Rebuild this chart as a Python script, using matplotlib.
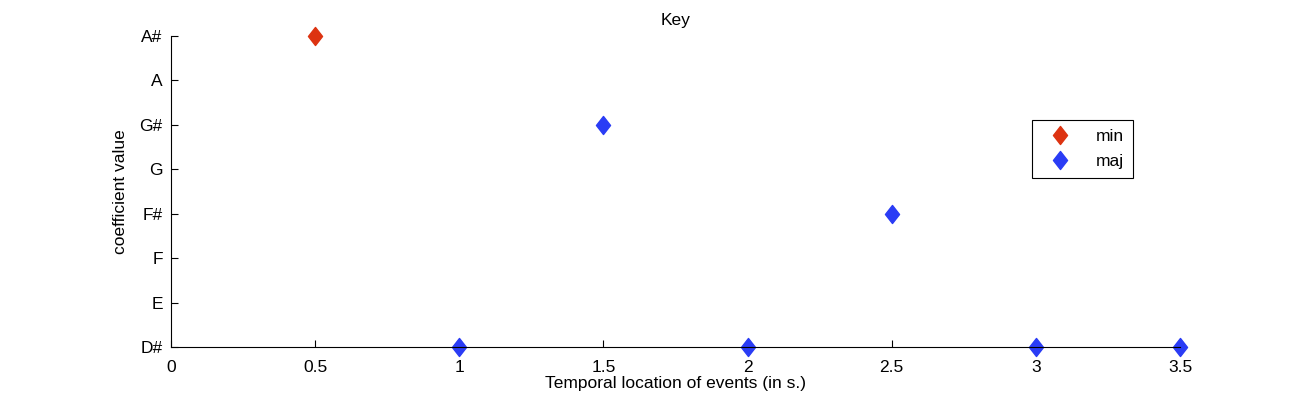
import matplotlib
matplotlib.use("Agg")
import matplotlib.pyplot as plt
from matplotlib.path import Path

keys = ["D#", "E", "F", "F#", "G", "G#", "A", "A#"]
min_x = [0.5]
min_y = ["A#"]
maj_x = [1.5, 2.5, 1, 2, 3, 3.5]
maj_y = ["G#", "F#", "D#", "D#", "D#", "D#"]

diamond = Path([(0, 1), (0.78, 0), (0, -1), (-0.78, 0), (0, 1)],
               [Path.MOVETO, Path.LINETO, Path.LINETO, Path.LINETO, Path.CLOSEPOLY])

plt.rcParams['font.family'] = ['Liberation Sans', 'DejaVu Sans']
plt.rcParams['font.size'] = 12.5
fig = plt.figure(figsize=(13.02, 4.04), dpi=100)
ax = fig.add_axes([171/1302, 1-347/404, (1180-171)/1302, (347-36)/404])
ax.plot(min_x, [keys.index(k) for k in min_y], linestyle='none', marker=diamond, color='#dd3311', markersize=13, label='min', clip_on=False)
ax.plot(maj_x, [keys.index(k) for k in maj_y], linestyle='none', marker=diamond, color='#2a3cf5', markersize=13, label='maj', clip_on=False)
ax.set_xlim(0, 3.5)
ax.set_ylim(0, 7)
ax.set_xticks([0, 0.5, 1, 1.5, 2, 2.5, 3, 3.5])
ax.set_xticklabels(["0", "0.5", "1", "1.5", "2", "2.5", "3", "3.5"])
ax.set_yticks(range(len(keys)))
ax.set_yticklabels(keys)
ax.tick_params(direction='in', length=5, right=False, top=False)
ax.tick_params(axis='x', pad=9)
ax.tick_params(axis='y', pad=6)
for s in ['top', 'right']:
    ax.spines[s].set_visible(False)
ax.set_xlabel("Temporal location of events (in s.)", labelpad=1)
ax.set_ylabel("coefficient value", labelpad=8)
ax.set_title("Key", fontsize=12.5, pad=8)
leg = ax.legend(loc='upper left', bbox_to_anchor=((1032-171)/1009, (347-120)/311),
                fancybox=False, edgecolor='black', framealpha=1, borderpad=0.5,
                handletextpad=1.0, labelspacing=0.6, handlelength=2.2, borderaxespad=0)
leg.get_frame().set_linewidth(0.8)
fig.savefig("out.png", dpi=100)
